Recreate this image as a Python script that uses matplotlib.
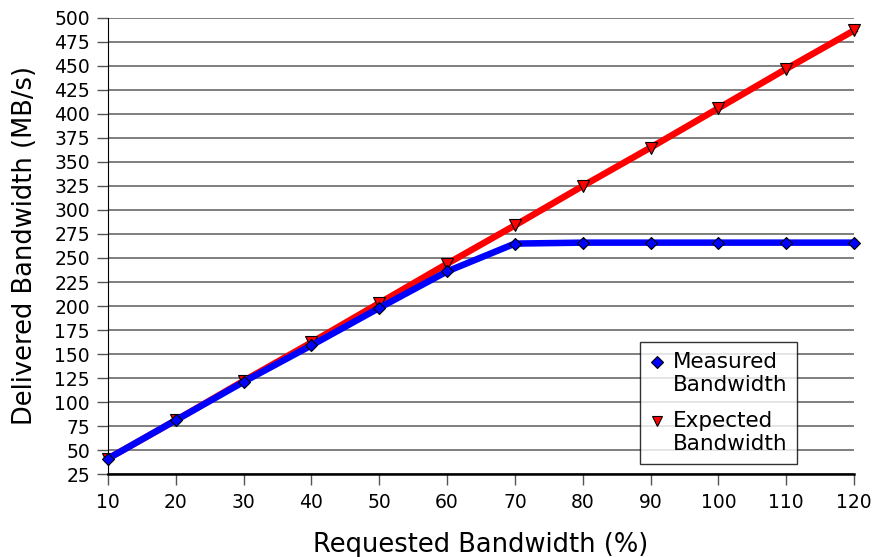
import numpy as np
import matplotlib.pyplot as plt

# requested bandwidth (%)
requested = [10, 20, 30, 40, 50, 60, 70, 80, 90, 100, 110, 120]
# delivered bandwidth (MB/s)
measured = [41, 81, 121, 159, 198, 236, 265, 266, 266, 266, 266, 266]
expected = [41, 81, 122, 162, 203, 244, 284, 325, 365, 406, 447, 487]

y_ticks = list(range(25, 501, 25))
x_ticks = list(range(10, 121, 10))

fig = plt.figure(figsize=(8.75, 5.57), dpi=100)
ax = fig.add_axes([0.1234, 0.149, 0.8526, 0.8187])

ax.plot(requested, expected, color='red', lw=4.7, marker='v', ms=8.5,
        mfc='red', mec='black', mew=0.8, label='Expected\nBandwidth',
        zorder=3, clip_on=False)
ax.plot(requested, measured, color='blue', lw=4.7, marker='D', ms=6.5,
        mfc='blue', mec='black', mew=0.8, label='Measured\nBandwidth',
        zorder=4, clip_on=False)

ax.set_xlim(10, 120)
ax.set_ylim(25, 500)
ax.set_xticks(x_ticks)
ax.set_yticks(y_ticks)
ax.tick_params(axis='both', labelsize=13.5, direction='out', length=8, width=1,
               color='#555555')
ax.tick_params(axis='y', pad=5)
ax.tick_params(axis='x', pad=6)
ax.yaxis.grid(True, color='#6a6a6a', lw=1.2)
ax.set_axisbelow(True)
for s in ['top', 'right']:
    ax.spines[s].set_visible(False)
ax.spines['bottom'].set_linewidth(1.8)

ax.set_xlabel('Requested Bandwidth (%)', fontsize=18.5, labelpad=14)
ax.set_ylabel('Delivered Bandwidth (MB/s)', fontsize=18.5, labelpad=12)

h, l = ax.get_legend_handles_labels()
leg = ax.legend(h[::-1], l[::-1], loc='lower right', bbox_to_anchor=(0.9236, 0.022),
                fontsize=15.5, frameon=True, fancybox=False, edgecolor='black',
                handlelength=0.6, handletextpad=0.45, borderpad=0.45, labelspacing=0.75,
                borderaxespad=0)
leg.get_frame().set_linewidth(1)
# put the legend markers beside the first line of each label
for lh in leg.legend_handles:
    lh.set_linestyle('none')
    lh.set_markersize(6.5)
    lh.set_ydata([v + 8.5 for v in lh.get_ydata()])

fig.savefig('out.png', dpi=100)
